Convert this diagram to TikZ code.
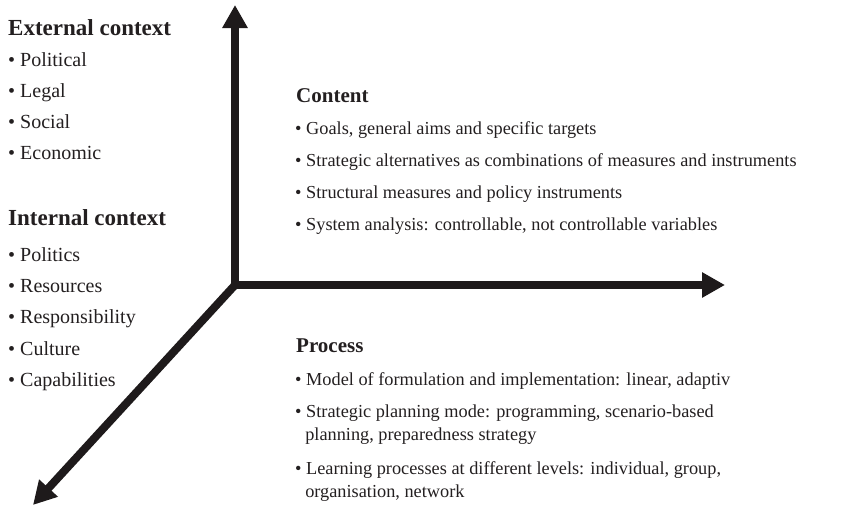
\documentclass[tikz,border=0pt]{standalone}
\usepackage{fontspec}
\setmainfont{Liberation Serif}
\usetikzlibrary{arrows.meta}
\begin{document}
\begin{tikzpicture}[x=1pt,y=-1pt,
  axis/.style={line width=8pt,line cap=rect,draw={rgb,255:red,30;green,26;blue,27},
    -{Triangle[length=23pt,width=24pt]}},
  lhead/.style={anchor=base west,inner sep=0pt,font=\fontsize{23}{26}\selectfont\bfseries,text={rgb,255:red,35;green,31;blue,32}},
  litem/.style={anchor=base west,inner sep=0pt,font=\fontsize{20}{23}\selectfont,text={rgb,255:red,35;green,31;blue,32}},
  rhead/.style={anchor=base west,inner sep=0pt,font=\fontsize{21}{24}\selectfont\bfseries,text={rgb,255:red,35;green,31;blue,32}},
  ritem/.style={anchor=base west,inner sep=0pt,align=left,font=\fontsize{18.3}{23}\selectfont,text={rgb,255:red,35;green,31;blue,32}}]
\useasboundingbox (0,0) rectangle (860,506);
\coordinate (O) at (235,285);
\coordinate (U) at (235,5);
\coordinate (R) at (725,285);
\coordinate (D) at (33,505);
\draw[axis] (O) -- (U);
\draw[axis] (O) -- (R);
\draw[axis] (O) -- (D);
% external context
\node[lhead] (ext) at (8,35) {External context};
\node[litem] (e1) at (8,66) {• Political};
\node[litem] (e2) at (8,97) {• Legal};
\node[litem] (e3) at (8,128) {• Social};
\node[litem] (e4) at (8,159) {• Economic};
% internal context
\node[lhead] (int) at (8,225) {Internal context};
\node[litem] (i1) at (8,261) {• Politics};
\node[litem] (i2) at (8,292) {• Resources};
\node[litem] (i3) at (8,323) {• Responsibility};
\node[litem] (i4) at (8,355) {• Culture};
\node[litem] (i5) at (8,386) {• Capabilities};
% content
\node[rhead] (con) at (296,102) {Content};
\node[ritem] (c1) at (295,134) {• Goals, general aims and specific targets};
\node[ritem] (c2) at (295,166) {• Strategic alternatives as combinations of measures and instruments};
\node[ritem] (c3) at (295,198) {• Structural measures and policy instruments};
\node[ritem] (c4) at (295,230) {• System analysis: controllable, not controllable variables};
% process
\node[rhead] (pro) at (296,352) {Process};
\node[ritem] (p1) at (295,385) {• Model of formulation and implementation: linear, adaptiv};
\node[ritem] (p2) at (295,440) {• Strategic planning mode: programming, scenario-based\\\hspace*{0.55em}planning, preparedness strategy};
\node[ritem] (p3) at (295,497) {• Learning processes at different levels: individual, group,\\\hspace*{0.55em}organisation, network};
\end{tikzpicture}
\end{document}
